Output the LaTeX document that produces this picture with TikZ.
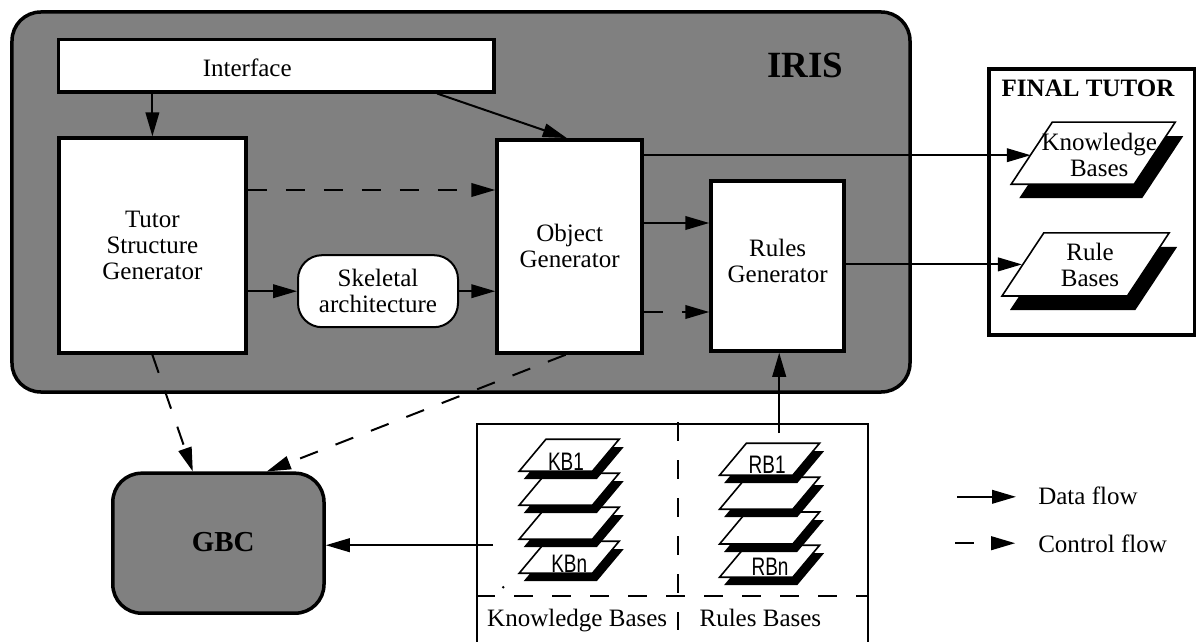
\documentclass[tikz,border=0pt]{standalone}
\usepackage{fontspec}
\setmainfont{Liberation Serif}
\newfontfamily\basefont[FakeStretch=0.75]{Liberation Sans}
\usepackage{xcolor}
\usepackage{tikz}
\usetikzlibrary{shapes.geometric,shadows,arrows.meta,calc}
\definecolor{irisgray}{HTML}{808080}
\tikzset{
    label text/.style={font=\fontsize{17.8}{18.5}\selectfont, align=center, inner sep=0pt},
    title text/.style={font=\fontsize{17.8}{18.5}\selectfont\bfseries, inner sep=0pt},
    small text/.style={font=\basefont\fontsize{18}{18}\selectfont, inner sep=0pt},
    thick box/.style={draw, line width=0.0875cm, fill=white, inner sep=0pt},
    gray box/.style={draw, line width=0.0875cm, fill=irisgray, rounded corners=0.72cm, inner sep=0pt},
    big base/.style={trapezium, trapezium stretches=true, trapezium left angle=63.4, trapezium right angle=116.6,
        draw, line width=0.04cm, fill=white, inner sep=1pt,
        general shadow={shadow xshift=0.2cm, shadow yshift=-0.35cm, fill=black}},
    small base/.style={trapezium, trapezium stretches=true, trapezium left angle=60, trapezium right angle=120,
        draw, line width=0.04cm, fill=white, inner sep=1pt, minimum width=2.5cm, minimum height=0.8cm,
        general shadow={shadow xshift=0.11cm, shadow yshift=-0.2cm, fill=black}},
    data flow/.style={line width=0.05cm, -{Triangle[length=0.6cm,width=0.34cm]}},
    control flow/.style={data flow, dash pattern=on 0.475cm off 0.475cm},
    divider/.style={line width=0.05cm, dash pattern=on 0.475cm off 0.475cm}
}

\begin{document}
\begin{tikzpicture}
    \useasboundingbox (0,0) rectangle (29.9,-16.05);

    % IRIS
    \node[gray box, minimum width=22.45cm, minimum height=9.5cm] (IRIS) at (11.525,-5.05) {};
    \node[title text, font=\fontsize{26.3}{28}\selectfont\bfseries] (IRISname) at (20.13,-1.63) {IRIS};

    % Generators
    \node[thick box, minimum width=10.89cm, minimum height=1.31cm] (Interface) at (6.91,-1.64) {};
    \node[label text] (Interfacename) at (6.18,-1.7) {Interface};
    \node[thick box, label text, minimum width=4.68cm, minimum height=5.375cm] (TSG) at (3.81,-6.14) {Tutor\\Structure\\Generator};
    \node[thick box, label text, minimum width=3.63cm, minimum height=5.33cm] (OG) at (14.24,-6.16) {Object\\Generator};
    \node[thick box, minimum width=3.33cm, minimum height=4.25cm] (RG) at (19.44,-6.65) {};
    \node[label text] (RGname) at (19.44,-6.53) {Rules\\Generator};
    \node[thick box, label text, line width=0.05cm, rounded corners=0.6cm, minimum width=4cm, minimum height=1.8cm] (SA) at (9.45,-7.28) {Skeletal\\architecture};

    % Final tutor
    \node[thick box, minimum width=5.15cm, minimum height=6.65cm] (FT) at (27.3,-5.05) {};
    \node[title text] (FTname) at (27.2,-2.2) {FINAL TUTOR};
    \node[big base, minimum width=4.1cm, minimum height=1.55cm] (KBase) at (27.33,-3.83) {};
    \node[label text] (KBasename) at (27.48,-3.87) {Knowledge\\Bases};
    \node[big base, minimum width=4.18cm, minimum height=1.58cm] (RBase) at (27.14,-6.61) {};
    \node[label text] (RBasename) at (27.25,-6.62) {Rule\\Bases};

    % GBC
    \node[gray box, minimum width=5.28cm, minimum height=3.5cm] (GBC) at (5.46,-13.58) {};
    \node[title text, font=\fontsize{20.6}{22}\selectfont\bfseries] (GBCname) at (5.58,-13.55) {GBC};

    % Bases store
    \node[draw, line width=0.04cm, fill=white, minimum width=9.78cm, minimum height=5.65cm] (Store) at (16.81,-13.43) {};
    \foreach \n/\y in {n/13.93,3/13.08,2/12.23,1/11.38}
        \node[small base] (KB\n) at (14.23,-\y) {};
    \foreach \n/\y in {n/14.03,3/13.2,2/12.33,1/11.48}
        \node[small base] (RB\n) at (19.24,-\y) {};
    \node[small text] (KB1name) at (14.15,-11.55) {KB1};
    \node[small text] (KBnname) at (14.23,-14.1) {KBn};
    \node[small text] (RB1name) at (19.18,-11.63) {RB1};
    \node[small text] (RBnname) at (19.25,-14.18) {RBn};
    \node[label text, anchor=base] (KBtitle) at (14.43,-15.67) {Knowledge Bases};
    \node[label text, anchor=base] (RBtitle) at (19.01,-15.67) {Rules Bases};
    \coordinate (divtop) at (16.95,-10.55);
    \coordinate (divbot) at (16.95,-15.75);
    \coordinate (divleft) at (Store.west |- 0,-14.9);
    \coordinate (divright) at (Store.east |- 0,-14.9);
    \draw[divider] (divtop) -- (divbot);
    \draw[divider] (divleft) -- (divright);
    \fill (12.58,-14.68) circle (0.035);

    % Connections
    \coordinate (kbin) at ([yshift=-0.05cm]KBase.west);
    \coordinate (tsgout) at ([yshift=1.39cm]TSG.east);
    \coordinate (ogout) at ([yshift=1.075cm]RG.west);
    \coordinate (ogdash) at ([yshift=-1.15cm]RG.west);
    \coordinate (storeup) at (19.48,-10.83);
    \coordinate (storeout) at (12.33,-13.63);
    \draw[data flow] (TSG.north |- Interface.south) -- (TSG.north);
    \draw[data flow] ([xshift=-1.47cm]Interface.south east) -- ([xshift=-0.07cm]OG.north);
    \draw[data flow] (OG.east |- kbin) -- (kbin);
    \draw[data flow] (RG.east |- RBase.west) -- (RBase.west);
    \draw[data flow] (ogout -| OG.east) -- (ogout);
    \draw[data flow] (SA.west -| TSG.east) -- (SA.west);
    \draw[data flow] (SA.east) -- (SA.east -| OG.west);
    \draw[data flow] (storeup) -- (storeup |- RG.south);
    \draw[data flow] (storeout) -- (storeout -| GBC.east);
    \draw[control flow] (tsgout) -- (tsgout -| OG.west);
    \draw[control flow] (ogdash -| OG.east) -- (ogdash);
    \draw[control flow] (TSG.south) -- ([xshift=-0.64cm]GBC.north);
    \draw[control flow] ([xshift=-0.1cm]OG.south) -- ([xshift=1.21cm]GBC.north);

    % Legend
    \coordinate (dataA) at (23.93,-12.42);
    \coordinate (dataB) at (25.4,-12.42);
    \coordinate (controlA) at (23.88,-13.58);
    \coordinate (controlB) at (25.38,-13.58);
    \draw[data flow] (dataA) -- (dataB);
    \draw[control flow] (controlA) -- (controlB);
    \node[label text, anchor=west] (dataname) at (25.95,-12.4) {Data flow};
    \node[label text, anchor=west] (controlname) at (25.95,-13.6) {Control flow};
\end{tikzpicture}
\end{document}
